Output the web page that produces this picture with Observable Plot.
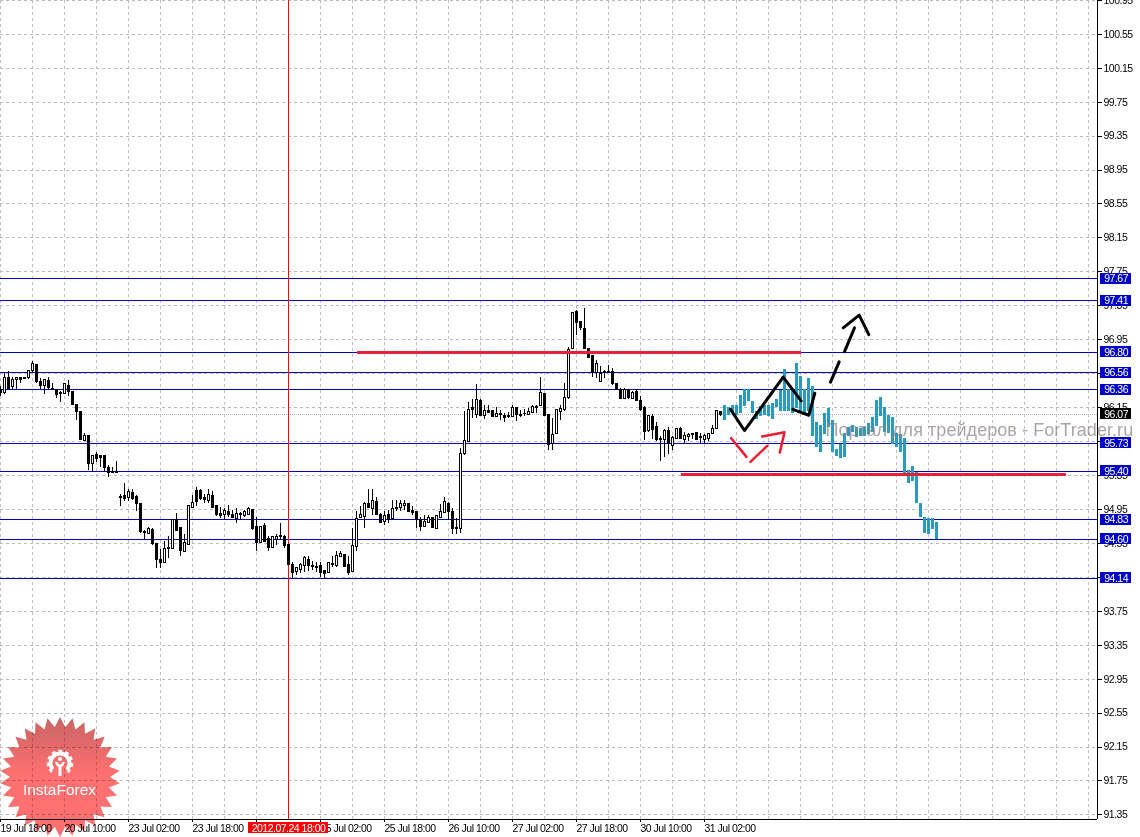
<!DOCTYPE html>
<html><head><meta charset="utf-8">
<script src="https://cdn.jsdelivr.net/npm/d3@7"></script>
<script src="https://cdn.jsdelivr.net/npm/@observablehq/plot@0.6"></script>
<style>
html,body{margin:0;padding:0;background:#fff;overflow:hidden}
svg{display:block}
svg text{letter-spacing:-.5px}
</style></head><body><div id="chart"></div>
<script>
const high=[96.40,96.56,96.57,96.51,96.50,96.50,96.51,96.59,96.69,96.66,
96.49,96.48,96.50,96.43,96.36,96.34,96.44,96.47,96.34,96.18,
96.10,95.85,95.82,95.59,95.62,95.58,95.58,95.47,95.45,95.51,
95.13,95.25,95.18,95.18,95.11,95.01,94.70,94.74,94.72,94.54,
94.48,94.57,94.63,94.82,94.90,94.73,94.65,94.99,95.12,95.21,
95.19,95.13,95.18,95.16,95.00,94.97,94.96,95.00,94.94,94.96,
94.91,94.94,94.97,94.95,94.85,94.75,94.78,94.63,94.63,94.66,
94.78,94.64,94.53,94.32,94.27,94.31,94.39,94.40,94.34,94.32,
94.32,94.23,94.33,94.40,94.45,94.45,94.42,94.39,94.73,94.93,
94.99,95.03,95.18,95.19,95.09,94.90,94.92,94.94,95.06,95.06,
95.05,95.05,95.01,94.98,94.93,94.86,94.88,94.88,94.86,94.88,
95.01,95.09,95.03,94.96,94.84,95.67,96.11,96.21,96.25,96.42,
96.24,96.17,96.18,96.12,96.15,96.12,96.08,96.09,96.18,96.15,
96.12,96.13,96.14,96.17,96.17,96.50,96.32,96.07,96.02,96.13,
96.17,96.44,96.86,97.27,97.29,97.17,97.32,96.84,96.77,96.71,
96.63,96.59,96.65,96.61,96.44,96.37,96.38,96.36,96.34,96.36,
96.28,96.16,96.06,96.07,95.98,95.81,95.89,95.92,95.81,95.90,
95.91,95.86,95.85,95.85,95.86,95.84,95.83,95.85,95.94,96.12,96.11];
const low=[96.28,96.31,96.36,96.36,96.36,96.44,96.48,96.48,96.56,96.43,
96.36,96.30,96.36,96.35,96.26,96.21,96.30,96.28,96.18,96.00,
95.76,95.75,95.41,95.38,95.50,95.45,95.40,95.33,95.38,95.38,
94.99,95.04,95.04,95.06,94.92,94.67,94.60,94.66,94.53,94.25,
94.25,94.31,94.37,94.48,94.69,94.39,94.45,94.52,94.96,94.98,
95.06,95.02,95.02,94.96,94.87,94.84,94.83,94.86,94.84,94.78,
94.82,94.85,94.88,94.70,94.45,94.55,94.56,94.45,94.49,94.52,
94.59,94.49,94.29,94.12,94.17,94.19,94.21,94.22,94.23,94.21,
94.15,94.13,94.19,94.27,94.27,94.38,94.27,94.17,94.21,94.46,
94.84,94.72,94.96,94.88,94.88,94.78,94.76,94.78,94.83,94.92,
94.93,94.94,94.91,94.88,94.73,94.69,94.74,94.78,94.72,94.72,
94.84,94.90,94.82,94.66,94.65,94.67,95.59,95.74,96.02,96.02,
96.04,96.01,96.08,96.03,96.03,96.00,95.98,96.02,96.03,95.99,
96.03,96.05,96.06,96.08,96.08,96.16,96.05,95.64,95.64,95.83,
96.00,96.11,96.25,96.83,97.00,97.06,96.83,96.73,96.51,96.49,
96.45,96.49,96.55,96.41,96.35,96.24,96.24,96.25,96.25,96.22,
96.11,95.76,95.86,95.77,95.75,95.51,95.56,95.60,95.65,95.77,
95.77,95.73,95.75,95.77,95.76,95.73,95.73,95.75,95.83,95.89,96.04];
const open=[96.36,96.32,96.50,96.39,96.47,96.50,96.50,96.50,96.58,96.65,
96.45,96.41,96.46,96.37,96.36,96.32,96.31,96.41,96.33,96.18,
96.10,95.76,95.82,95.48,95.59,95.58,95.58,95.44,95.39,95.39,
95.10,95.11,95.09,95.14,95.10,95.01,94.69,94.66,94.71,94.54,
94.36,94.32,94.49,94.48,94.82,94.73,94.45,94.53,94.97,95.17,
95.17,95.08,95.05,95.11,94.99,94.90,94.88,94.92,94.88,94.84,
94.90,94.87,94.89,94.94,94.74,94.56,94.75,94.60,94.50,94.59,
94.64,94.63,94.53,94.30,94.21,94.24,94.28,94.36,94.28,94.27,
94.28,94.22,94.20,94.31,94.28,94.39,94.41,94.29,94.21,94.51,
94.85,94.86,95.01,94.95,95.04,94.89,94.80,94.88,94.84,94.97,
94.97,94.99,95.01,94.93,94.92,94.82,94.74,94.79,94.85,94.72,
94.85,94.91,95.02,94.92,94.73,94.72,95.60,95.75,96.14,96.06,
96.23,96.05,96.11,96.11,96.04,96.07,96.05,96.05,96.04,96.14,
96.06,96.08,96.06,96.09,96.14,96.17,96.31,96.06,95.72,95.84,
96.10,96.12,96.26,96.84,97.28,97.16,97.08,96.84,96.76,96.56,
96.45,96.57,96.57,96.57,96.43,96.36,96.25,96.36,96.25,96.33,
96.23,96.15,95.88,96.04,95.92,95.78,95.77,95.87,95.70,95.78,
95.90,95.77,95.80,95.84,95.85,95.80,95.77,95.78,95.84,95.90,96.10];
const close=[96.32,96.50,96.37,96.48,96.50,96.48,96.49,96.58,96.66,96.45,
96.41,96.47,96.38,96.36,96.30,96.31,96.43,96.33,96.18,96.10,
95.77,95.81,95.49,95.58,95.55,95.56,95.44,95.38,95.38,95.38,
95.09,95.07,95.15,95.07,95.02,94.68,94.67,94.72,94.54,94.36,
94.32,94.48,94.48,94.82,94.70,94.46,94.55,94.99,95.03,95.04,
95.07,95.06,95.12,94.97,94.89,94.87,94.93,94.89,94.85,94.90,
94.89,94.92,94.95,94.72,94.55,94.74,94.57,94.50,94.63,94.63,
94.63,94.52,94.29,94.20,94.26,94.30,94.38,94.28,94.27,94.26,
94.20,94.19,94.32,94.29,94.40,94.42,94.27,94.20,94.52,94.84,
94.88,95.02,94.97,95.05,94.89,94.79,94.87,94.83,94.96,94.96,
95.01,95.02,94.92,94.91,94.82,94.74,94.80,94.85,94.73,94.87,
94.92,95.04,94.92,94.72,94.72,95.60,95.76,96.12,96.12,96.24,
96.05,96.11,96.09,96.04,96.08,96.06,96.03,96.04,96.15,96.06,
96.05,96.07,96.10,96.16,96.16,96.32,96.05,95.71,95.83,96.12,
96.13,96.26,96.83,97.26,97.15,97.09,96.84,96.74,96.56,96.66,
96.55,96.56,96.56,96.43,96.36,96.25,96.36,96.26,96.32,96.23,
96.12,95.86,96.05,95.89,95.77,95.77,95.88,95.72,95.79,95.90,
95.78,95.81,95.83,95.83,95.77,95.79,95.82,95.84,95.90,96.11,96.06];
const forecastFirstBar=181;
const forecastHigh=[96.17,96.15,96.18,96.18,96.29,96.36,96.36,96.22,96.10,96.16,
96.17,96.17,96.20,96.25,96.35,96.60,96.36,96.36,96.67,96.52,
96.36,96.49,96.40,95.98,95.94,96.08,96.14,96.00,95.66,95.72,
95.84,95.92,95.94,95.92,95.90,95.92,95.96,96.03,96.23,96.27,
96.15,96.06,96.03,95.85,95.83,95.79,95.41,95.46,95.39,95.02,
94.85,94.84,94.84,94.80];
const forecastLow=[96.00,96.06,96.08,96.06,96.08,96.16,96.22,96.08,96.01,96.04,
96.06,96.05,96.01,96.15,96.10,96.10,96.10,96.08,96.14,96.10,
96.08,96.10,95.81,95.68,95.62,95.83,95.92,95.62,95.57,95.55,
95.56,95.81,95.86,95.80,95.81,95.81,95.83,95.86,95.93,96.04,
95.86,95.84,95.72,95.68,95.62,95.34,95.26,95.28,95.02,94.86,
94.67,94.66,94.71,94.60];
const levels=[97.67,97.41,96.80,96.56,96.36,95.73,95.40,94.83,94.60,94.14];
const currentPrice=96.07;
const yTicks=[100.95,100.55,100.15,99.75,99.35,98.95,98.55,98.15,97.75,97.35,96.95,96.55,96.15,95.75,95.35,94.95,94.55,94.15,93.75,93.35,92.95,92.55,92.15,91.75,91.35];
const gridBars=d3.range(0,35).map(k=>k*8);
const xTickBars=[0,16,32,48,64,80,96,112,128,144,160,176];
const xTickLabels=["19 Jul 18:00","20 Jul 10:00","23 Jul 02:00","23 Jul 18:00","24 Jul 10:00","25 Jul 02:00","25 Jul 18:00","26 Jul 10:00","27 Jul 02:00","27 Jul 18:00","30 Jul 10:00","31 Jul 02:00"];
const cursorBar=72, cursorLabel="2012.07.24 18:00";
const redLevels=[{x1:89.25,x2:200.25,y:96.80},{x1:170.25,x2:266.5,y:95.36}];
const blackStrokes=[
 [[182.5,96.13],[186,95.88],[195.67,96.51],[200.17,96.23]],
 [[198.08,96.13],[202.08,96.06],[203.58,96.32]],
 [[207.5,96.45],[209.67,96.69]],
 [[211,96.81],[213.5,97.09]],
 [[210.67,97.09],[214.67,97.24],[217.08,97.01]]];
const redStrokes=[
 [[182.67,95.79],[186.5,95.57]],
 [[187.5,95.51],[191.67,95.70]],
 [[190.42,95.81],[196,95.86],[194.83,95.62]]];
const watermark="Портал для трейдеров - ForTrader.ru";

const FONT="Liberation Sans, Arial, sans-serif";
const candles=high.map((h,i)=>({i,h,l:low[i],o:open[i],c:close[i],up:close[i]>open[i]}));
const bars=forecastHigh.map((h,k)=>({i:forecastFirstBar+k,h,l:forecastLow[k]}));
const flat=(s)=>s.flatMap((pts,k)=>pts.map(p=>({k,x:p[0],y:p[1]})));
const xMax=274.25, yMin=91.296, yMax=100.948;
const pad=0.065;

function badge(){
  const cx=60,cy=777,n=30,R=60,r=50;
  const g=d3.create("svg:g");
  const grad=g.append("defs").append("linearGradient").attr("id","star").attr("gradientUnits","userSpaceOnUse")
    .attr("x1",0).attr("x2",0).attr("y1",717).attr("y2",775);
  grad.append("stop").attr("offset",0).attr("stop-color","#c96464");
  grad.append("stop").attr("offset",1).attr("stop-color","#ff7070");
  const pts=[];
  for(let k=0;k<n*2;k++){const a=Math.PI*k/n-Math.PI/2,q=k%2?r:R;pts.push([cx+q*Math.cos(a),cy+q*Math.sin(a)]);}
  g.append("polygon").attr("points",pts.join(" ")).attr("fill","url(#star)").style("mix-blend-mode","multiply");
  const gy=763;
  g.append("circle").attr("cx",cx).attr("cy",gy).attr("r",9.5).attr("fill","none").attr("stroke","#fff").attr("stroke-width",4).attr("stroke-dasharray","44 15.7").attr("transform",`rotate(138 ${cx} ${gy})`);
  g.append("circle").attr("cx",cx).attr("cy",gy).attr("r",12).attr("fill","none").attr("stroke","#fff").attr("stroke-width",2.6).attr("stroke-dasharray","3.6 3.2 3.6 3.2 3.6 3.2 3.6 3.2 3.6 3.2 3.6 3.2 3.6 3.2 3.6 3.2 3.6 21").attr("transform",`rotate(132 ${cx} ${gy})`);
  g.append("circle").attr("cx",cx).attr("cy",gy-4).attr("r",2).attr("fill","#fff");
  g.append("path").attr("d",`M${cx-5} ${gy-1}q1 4 3.5 5v9h3v-9q2.5 -1 3.5 -5h-2.5q-1 2.5 -2.5 2.5t-2.5 -2.5z`).attr("fill","#fff");
  g.append("text").attr("x",cx-.5).attr("y",795).attr("text-anchor","middle").attr("fill","#fff").attr("font-family",FONT).attr("font-size",15.5).style("letter-spacing","0").text("InstaForex");
  return g.node();
}

const plot=Plot.plot({
  width:1140,height:837,marginTop:0,marginLeft:0,marginRight:43,marginBottom:18,
  style:{background:"#fff",fontFamily:FONT,fontSize:"10.5px",color:"#000"},
  x:{domain:[0,xMax],range:[0,1097],axis:null},
  y:{domain:[yMin,yMax],range:[819,0],axis:null},
  marks:[
    Plot.ruleX(gridBars,{x:d=>d,y1:yMin,y2:yMax,stroke:"#c8b8c8",strokeDasharray:"3,3",shapeRendering:"crispEdges"}),
    Plot.ruleY(yTicks,{y:d=>d,x1:0,x2:xMax,stroke:"#b6bcb6",strokeDasharray:"3,3",shapeRendering:"crispEdges"}),
    Plot.ruleY([currentPrice],{y:d=>d,x1:0,x2:xMax,stroke:"#b8b8b8",strokeDasharray:"1,1",shapeRendering:"crispEdges"}),
    Plot.ruleX([xMax],{x:d=>d,y1:yMin,y2:yMax,stroke:"#000",shapeRendering:"crispEdges"}),
    Plot.ruleY([yMin],{y:d=>d,x1:0,x2:xMax,stroke:"#000",shapeRendering:"crispEdges"}),
    Plot.axisY(yTicks,{anchor:"right",ticks:yTicks,tickSize:4,tickPadding:2,tickFormat:d3.format(".2f"),label:null,fill:"#000",stroke:"#000",fontSize:10.5,shapeRendering:"crispEdges"}),
    Plot.ruleX(xTickBars,{x:d=>d,y1:yMin,y2:91.26,stroke:"#000",shapeRendering:"crispEdges"}),
    Plot.text(xTickBars,{x:d=>d,text:(d,i)=>xTickLabels[i],frameAnchor:"bottom",dy:9,textAnchor:"start",lineAnchor:"middle",fill:"#000",fontSize:10.5}),
    Plot.ruleY(levels,{y:d=>d,x1:0,x2:xMax,stroke:"#0000c0",shapeRendering:"crispEdges"}),
    Plot.ruleX([cursorBar],{x:d=>d,y1:yMin,y2:yMax,stroke:"#ff0000",strokeWidth:1.2,shapeRendering:"crispEdges"}),
    Plot.ruleX(candles,{x:"i",y1:"l",y2:"h",stroke:"#000",shapeRendering:"crispEdges"}),
    Plot.rect(candles,{x1:d=>d.i-0.125,x2:d=>d.i+0.375,y1:d=>Math.min(d.o,d.c),y2:d=>Math.max(d.o,d.c),fill:d=>d.up?"#fff":"#000",stroke:"#000",shapeRendering:"crispEdges"}),
    Plot.ruleX(bars,{x:"i",y1:"l",y2:"h",stroke:"#2a9ac0",strokeWidth:3,shapeRendering:"crispEdges"}),
    Plot.ruleY(redLevels,{y:"y",x1:"x1",x2:"x2",stroke:"#e8203a",strokeWidth:3,shapeRendering:"crispEdges"}),
    Plot.line(flat(blackStrokes),{x:"x",y:"y",z:"k",stroke:"#000",strokeWidth:3,curve:"linear"}),
    Plot.line(flat(redStrokes),{x:"x",y:"y",z:"k",stroke:"#ee1c30",strokeWidth:2.5,curve:"linear"}),
    Plot.text([watermark],{x:206.25,y:95.887,text:d=>d,textAnchor:"start",lineAnchor:"middle",fontSize:18,fill:"#8a8280",fillOpacity:0.72}),
    Plot.rect(levels,{x1:275,x2:282.75,y1:d=>d-pad,y2:d=>d+pad,fill:"#0000c8",shapeRendering:"crispEdges"}),
    Plot.text(levels,{x:278.9,y:d=>d,text:d=>d.toFixed(2),fill:"#fff",fontSize:10.5,lineAnchor:"middle"}),
    Plot.rect([currentPrice],{x1:275,x2:282.75,y1:d=>d-pad,y2:d=>d+pad,fill:"#000",shapeRendering:"crispEdges"}),
    Plot.text([currentPrice],{x:278.9,y:d=>d,text:d=>d.toFixed(2),fill:"#fff",fontSize:10.5,lineAnchor:"middle"}),
    Plot.rect([cursorLabel],{x1:62,x2:82,y1:91.13,y2:91.256,fill:"#ff0000",shapeRendering:"crispEdges"}),
    Plot.text([cursorLabel],{x:72,y:91.19,text:d=>d,fill:"#fff",fontSize:10.5,lineAnchor:"middle"}),
    badge
  ]
});
document.getElementById("chart").append(plot);
d3.select(plot).selectAll("text").filter(function(){return this.textContent===watermark;}).style("letter-spacing","0.06px");
</script></body></html>
